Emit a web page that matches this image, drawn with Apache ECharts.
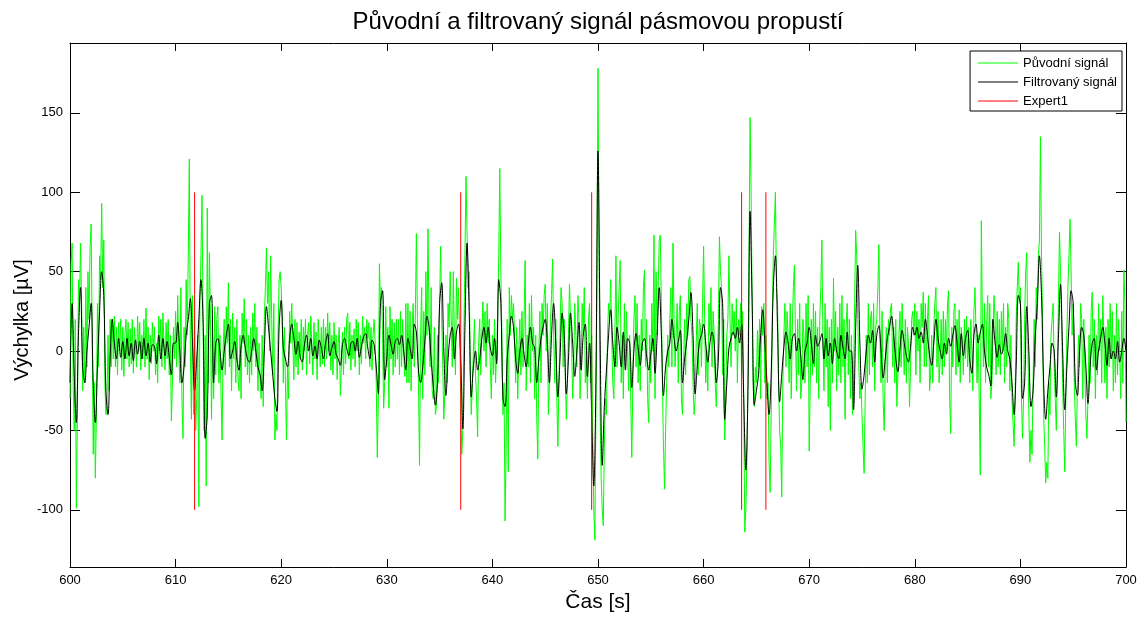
<!DOCTYPE html>
<html><head><meta charset="utf-8">
<script src="https://cdn.jsdelivr.net/npm/echarts@6/dist/echarts.min.js"></script>
<style>html,body{margin:0;padding:0;background:#fff}#c{width:1141px;height:618px}</style>
</head><body><div id="c"></div>
<script>
const titleText = 'Původní a filtrovaný signál pásmovou propustí';
const xName = 'Čas [s]';
const yName = 'Výchylka [µV]';
const xTicks = [600, 610, 620, 630, 640, 650, 660, 670, 680, 690, 700];
const yTicks = [-100, -50, 0, 50, 100, 150];
const seriesNames = ['Původní signál', 'Filtrovaný signál', 'Expert1'];

// original signal, one sample every 0.1 s from 600 s
const originalStart = 600, originalStep = 0.1;
const originalSignal = [
-30,55,68,-20,-50,20,-99,-40,45,30,
68,30,-25,15,-20,40,-10,50,20,65,
80,10,-65,-20,-80,-40,30,-10,60,45,
93,40,70,-20,-40,-35,10,-25,20,-10,
20,-5,22,-10,15,-15,18,0,20,-12,
15,-16,10,20,-5,18,-10,14,-8,20,
-14,15,5,-10,22,0,18,-12,10,-5,
20,-10,27,-5,15,-18,10,-8,18,0,
15,-15,5,-20,22,0,20,-10,24,5,
-12,18,-5,20,-15,10,-44,-20,15,-5,
25,-10,35,0,-20,40,-30,-55,15,-10,
45,10,60,121,0,-43,35,-40,20,-50,
-30,10,-98,30,60,98,20,-50,10,-85,
90,-20,62,20,-43,10,-30,28,-15,20,
28,-20,10,-27,-56,0,20,-15,28,5,
43,-10,20,-25,24,-5,15,-20,20,-15,
-25,10,-30,24,5,33,-10,20,-15,10,
-20,15,-15,24,0,30,-10,15,-25,5,
-15,-30,10,-35,20,40,65,30,50,0,
60,20,-15,30,-56,-40,-50,10,45,50,
40,20,-20,15,-20,-56,-10,-30,25,5,
30,5,-18,20,-10,18,-15,12,-5,20,
-12,15,0,20,-15,10,18,-8,22,5,
-15,18,-5,12,-18,20,5,-10,15,-8,
20,-10,15,-5,24,0,18,-12,10,-15,
18,-5,10,-18,5,15,-28,-10,12,-15,
15,-8,20,24,-5,18,-12,10,-5,14,
-10,20,0,18,-15,10,-8,22,5,15,
-5,20,8,18,-10,15,-12,10,20,5,
-20,-67,-30,55,30,40,10,-36,-20,28,
-10,15,-36,28,-5,20,-15,18,-10,20,
-5,20,-15,25,-10,20,0,-16,30,-20,
30,-20,25,-25,15,30,-10,20,74,20,
-20,-72,10,40,-30,25,-15,50,10,77,
20,-10,40,-25,-30,15,-40,-35,10,-20,
30,66,20,-10,-43,-25,10,-20,30,15,
50,20,-10,50,10,-15,46,20,40,10,
-30,-65,-50,10,60,110,75,40,50,-10,
-40,-20,0,20,-15,-30,-54,5,20,-15,
10,31,0,25,-10,30,5,20,-10,-30,
10,-15,20,-20,0,20,60,115,50,10,
-40,-20,-107,-60,20,-76,40,10,35,20,
30,10,-20,15,-30,0,20,-15,25,-10,
20,57,-25,10,-10,30,-20,35,0,15,
-30,10,-43,-68,0,25,-20,30,10,35,
42,0,30,-40,-20,20,35,58,10,-20,
20,-30,-60,-20,10,40,30,-10,20,-15,
-43,-20,10,42,20,5,-30,-10,30,10,
-10,35,20,-30,-10,30,10,40,-20,-5,
-30,20,30,-20,10,-50,-100,-119,-40,40,
178,60,-40,-80,-100,-110,-60,-30,-40,10,
30,20,45,10,-20,-30,10,60,-10,20,
40,57,-20,10,-30,30,-10,25,0,-25,
10,-30,-67,-20,20,35,-10,30,-20,10,
-25,20,0,40,51,-10,20,-30,-45,10,
-20,30,0,73,-30,50,10,40,70,73,
30,-20,-60,-87,-50,-20,10,-10,20,40,
-10,68,20,-10,10,30,-20,25,35,-30,
-40,-10,20,-15,30,10,45,47,20,10,
-20,-40,-30,5,30,-15,20,15,-10,30,
66,20,-20,0,-25,30,10,40,-10,25,
10,-20,-35,-10,20,72,50,40,-15,20,
-56,-30,10,20,60,20,-10,30,10,25,
0,33,-20,20,10,30,-15,25,-30,-114,
-100,-70,-20,60,147,100,30,-20,-35,-10,
-20,13,-10,20,-30,28,10,30,-20,10,
-30,-20,-70,-89,-40,20,60,80,100,40,
30,-20,-50,-60,-92,-20,10,30,-10,25,
10,-20,30,-30,15,40,54,10,-25,20,
-15,30,-30,-20,20,10,-20,30,-10,35,
-63,-20,20,-15,30,-10,25,-20,15,-30,
20,40,70,10,-25,30,-10,20,-35,15,
-50,20,-20,46,0,25,-25,15,-15,30,
-20,35,-10,20,-43,15,30,-15,20,-30,
10,-40,-20,30,76,60,20,-10,-30,-20,
-40,-60,-77,-30,10,-20,30,-15,20,25,
-10,30,-25,15,20,40,67,10,-20,25,
-30,-50,-10,15,-20,20,10,27,30,-10,
15,-20,20,-35,-15,10,25,-10,30,5,
-15,20,-20,15,5,-35,-10,20,25,10,
30,-15,25,0,20,-20,30,15,37,-10,
30,-10,20,35,-25,-15,10,-20,15,30,
40,-10,25,-20,-5,20,-15,25,-10,20,
0,30,38,-30,-52,15,-10,25,30,-15,
20,-10,26,-20,15,5,-15,20,-5,22,
-10,15,-20,20,0,-25,25,40,10,-20,
10,-30,-78,82,20,-10,30,-20,15,35,
-10,30,-30,-20,10,35,20,-15,25,-10,
20,-15,25,0,30,-20,15,-10,30,20,
-25,10,-30,-45,-60,-30,20,40,56,30,
40,-30,-55,-30,20,50,62,10,-40,-70,
-50,-65,-20,20,-10,40,20,60,70,135,
60,20,-40,-60,-83,-70,-80,-20,-40,10,
20,30,-10,-30,-50,-10,30,75,50,20,
-20,-50,-76,-30,10,40,60,83,50,10,
30,-20,-43,-60,-20,10,-10,30,20,-30,
20,-10,-40,-55,-30,10,-20,25,37,-10,
20,-30,10,-15,30,0,20,-20,35,10,
-20,15,-30,20,-10,30,-5,25,-25,10,
-20,30,-15,20,0,-30,25,-20,51,30,
-45
];

// band-pass filtered signal, one sample every 0.2 s from 600 s
const filteredStart = 600, filteredStep = 0.2;
const filteredSignal = [
-20,30,-15,-45,10, 40,-10,-20,0,15, 30,-20,-45,-10,25, 50,35,-25,-40,-5,
20,5,-5,8,-4, 6,-5,8,-3,5, -6,7,-2,6,-5, 8,-3,5,-7,4,
3,-8,10,-5,8, -3,6,-4,-15,5, 5,18,0,-20,-10, 10,20,33,5,-25,
-5,20,45,20,-55, -40,30,35,-20,5, 8,0,-12,0,10, 17,-5,0,6,-5,
-12,3,10,2,-5, -7,0,8,0,-10, -15,-25,0,28,15, 0,-15,-30,-38,15,
32,2,-5,-10,8, 17,8,-2,6,-4, -7,4,10,0,8, -3,3,-5,7,2,
-5,5,11,-3,2, 6,-2,-5,-9,4, 8,2,-3,5,6, 0,8,-4,3,9,
11,2,-5,7,4, -10,-27,30,38,-18, -5,10,4,-2,6, 8,4,10,0,-12,
8,2,-5,17,12, -12,-20,-10,6,22, 15,-5,-22,-34,-20, 30,43,0,-28,-5,
10,15,-5,12,17, -5,-49,15,68,25, -29,-10,0,-12,-5, 8,15,5,15,2,
-3,8,-8,45,30, -30,-35,-5,10,22, 15,-5,-14,0,8, -2,-10,5,15,5,
2,-20,-5,8,15, 20,6,-20,10,30, 5,-29,-5,24,10, -27,-5,24,5,-16,
0,18,-12,10,17, -16,5,-40,-85,-20, 126,10,-72,-35,-12, 10,26,5,-10,15,
5,-10,12,-12,8, 5,-23,0,11,2, -9,5,8,-3,-12, -2,8,-14,10,40,
10,-28,-10,0,5, 20,8,0,6,13, -20,-5,6,20,37, 10,-27,-10,6,10,
17,5,-7,5,12, 5,-20,-5,40,30, -43,-20,2,8,12, 8,15,5,17,-30,
-75,-25,88,30,-34, -25,-15,10,26,5, -20,-40,-15,40,60, 15,-32,-15,2,12,
5,-5,8,11,0, 8,-3,-18,0,5, 15,5,-8,10,3, 6,11,-5,8,-3,
5,-8,8,0,-5, 10,2,-5,12,0, 0,-37,15,54,5, -24,-15,0,10,5,
13,-7,10,16,0, -17,-5,8,15,22, 10,-5,-13,2,13, 5,-3,-7,3,15,
10,15,8,12,5, 20,10,-3,-9,5, 20,8,0,-5,5, -2,8,3,10,16,
5,-7,11,-3,8, 13,-5,-14,10,17, 5,12,17,0,-10, -15,-22,20,5,-4,
4,-2,2,11,0, -5,-20,-40,-10,35, 30,-30,-20,28,0, -35,-25,8,30,60,
35,-20,-43,-25,-10, 5,0,-29,8,42, 0,-37,-10,15,38, 30,-20,-28,0,15,
10,-10,-33,-10,5, 8,-12,0,8,15, 5,-9,8,-5,0, -5,6,-7,0,8,
0
];

// expert marks (s) and their vertical extent
const expertTimes = [611.8, 637.0, 649.4, 663.6, 665.9];
const expertRange = [-100, 100];

const yMin = -136, yMax = 194;

const origData = originalSignal.map((v, i) => [+(originalStart + i * originalStep).toFixed(2), v]);
const filtData = filteredSignal.map((v, i) => [+(filteredStart + i * filteredStep).toFixed(2), v]);
const expertData = [];
expertTimes.forEach(t => { expertData.push([t, expertRange[0]], [t, expertRange[1]], [t, '-']); });

const font = '"Liberation Sans", Arial, sans-serif';
const chart = echarts.init(document.getElementById('c'), null, {renderer: 'canvas'});
const axisCommon = {
  min: 600, max: 700, interval: 10, type: 'value',
  axisLine: {show: true, onZero: false, lineStyle: {color: '#000', width: 1}},
  axisTick: {show: true, inside: true, length: 8, lineStyle: {color: '#000'}},
  splitLine: {show: false}
};
const yCommon = {
  type: 'value', min: yMin, max: yMax,
  axisLine: {show: true, onZero: false, lineStyle: {color: '#000', width: 1}},
  axisTick: {show: true, inside: true, length: 10, customValues: yTicks, lineStyle: {color: '#000'}},
  splitLine: {show: false}
};
chart.setOption({
  animation: false,
  backgroundColor: '#fff',
  textStyle: {fontFamily: font},
  graphic: [
    {type: 'text', x: 598, y: 22,
     style: {text: titleText, fill: '#000', font: '24px ' + font, textAlign: 'center', textVerticalAlign: 'middle'}},
    {type: 'text', x: 22, y: 320, rotation: Math.PI / 2,
     style: {text: yName, fill: '#000', font: '20px ' + font, textAlign: 'center', textVerticalAlign: 'middle'}}
  ],
  grid: {left: 70, right: 15, top: 43, bottom: 43, containLabel: false},
  legend: {
    orient: 'vertical', right: 19, top: 51,
    data: seriesNames.map(n => ({name: n, icon: 'rect'})),
    backgroundColor: '#fff', borderColor: '#000', borderWidth: 1, borderRadius: 0,
    padding: [4, 5, 2, 8], itemGap: 3, itemWidth: 40, itemHeight: 1,
    textStyle: {fontSize: 13, color: '#000', fontFamily: font, lineHeight: 16}
  },
  xAxis: [
    Object.assign({}, axisCommon, {
      position: 'bottom',
      name: xName, nameLocation: 'middle', nameGap: 25,
      nameTextStyle: {fontSize: 21, color: '#000', fontFamily: font},
      axisLabel: {show: true, margin: 7, fontSize: 13, color: '#000', fontFamily: font, customValues: xTicks}
    }),
    Object.assign({}, axisCommon, {position: 'top', axisLabel: {show: false}})
  ],
  yAxis: [
    Object.assign({}, yCommon, {
      position: 'left',
      axisLabel: {show: true, margin: 7, fontSize: 13, color: '#000', fontFamily: font, customValues: yTicks}
    }),
    Object.assign({}, yCommon, {position: 'right', axisLabel: {show: false}})
  ],
  series: [
    {name: seriesNames[0], type: 'line', data: origData, symbol: 'none', showSymbol: false,
     lineStyle: {color: '#00ff00', width: 1}, itemStyle: {color: '#00ff00'}, z: 2},
    {name: seriesNames[1], type: 'line', data: filtData, symbol: 'none', showSymbol: false, smooth: 0.35,
     lineStyle: {color: '#000000', width: 1}, itemStyle: {color: '#000000'}, z: 3},
    {name: seriesNames[2], type: 'line', data: expertData, symbol: 'none', showSymbol: false, connectNulls: false,
     lineStyle: {color: '#ff0000', width: 1}, itemStyle: {color: '#ff0000'}, z: 4}
  ]
});
</script></body></html>
